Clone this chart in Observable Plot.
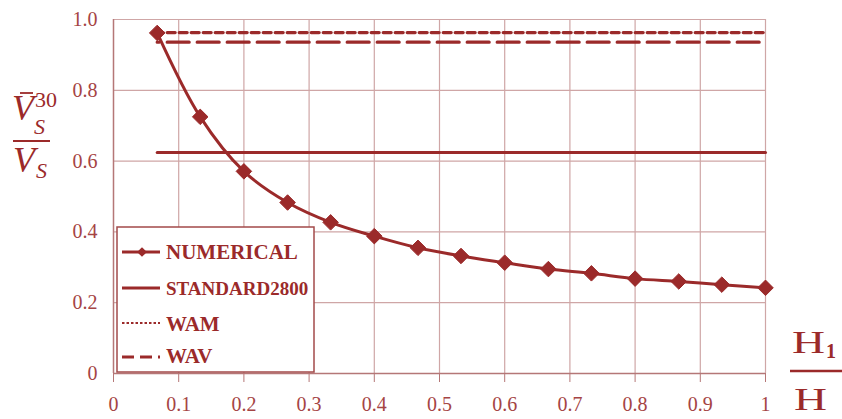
<!DOCTYPE html>
<html>
<head>
<meta charset="utf-8">
<script src="https://cdn.jsdelivr.net/npm/d3@7"></script>
<script src="https://cdn.jsdelivr.net/npm/@observablehq/plot@0.6"></script>
<style>
  html, body { margin: 0; padding: 0; background: #fff; }
  #chart { position: relative; width: 842px; height: 419px; }
</style>
</head>
<body>
<div id="chart"></div>
<script>
// ---- data ----
const hRatio = [0.067, 0.133, 0.2, 0.267, 0.333, 0.4, 0.467, 0.533, 0.6, 0.667, 0.733, 0.8, 0.867, 0.933, 1.0];
const numerical = [0.962, 0.725, 0.571, 0.483, 0.427, 0.388, 0.355, 0.332, 0.313, 0.295, 0.283, 0.268, 0.26, 0.251, 0.242];
const standard2800 = 0.624;
const wam = 0.963;
const wav = 0.936;
const lineStart = 0.067;
const lineEnd = 1.0;
const xTicks = [0, 0.1, 0.2, 0.3, 0.4, 0.5, 0.6, 0.7, 0.8, 0.9, 1.0];
const xTickLabels = ["0", "0.1", "0.2", "0.3", "0.4", "0.5", "0.6", "0.7", "0.8", "0.9", "1"];
const yTicks = [0, 0.2, 0.4, 0.6, 0.8, 1.0];
const yTickLabels = ["0", "0.2", "0.4", "0.6", "0.8", "1.0"];
const seriesNames = ["NUMERICAL", "STANDARD2800", "WAM", "WAV"];

// ---- styles ----
const dark = "#9b2a2a";
const textCol = "#a54444";
const gridCol = "#cfa6a6";
const axisCol = "#b57777";

const pts = hRatio.map((x, i) => ({x, y: numerical[i]}));
const hline = (v) => [{x: lineStart, y: v}, {x: lineEnd, y: v}];

const svg = Plot.plot({
  width: 842,
  height: 419,
  marginLeft: 113,
  marginRight: 77,
  marginTop: 19,
  marginBottom: 46,
  x: {domain: [0, 1]},
  y: {domain: [0, 1]},
  style: {fontFamily: "'Liberation Serif', serif", fontSize: "20px", color: textCol, background: "#fff", overflow: "visible"},
  marks: [
    Plot.gridX(xTicks, {stroke: gridCol, strokeOpacity: 1, strokeWidth: 1.2}),
    Plot.gridY(yTicks, {stroke: gridCol, strokeOpacity: 1, strokeWidth: 1.2}),
    Plot.ruleX([0], {stroke: axisCol, strokeWidth: 1.4}),
    Plot.ruleY([0], {stroke: axisCol, strokeWidth: 1.4}),
    Plot.axisX(xTicks, {tickSize: 9, tickPadding: 14, stroke: axisCol, tickFormat: (d, i) => xTickLabels[i], label: null, fill: textCol}),
    Plot.axisY(yTicks, {tickSize: 0, tickPadding: 16, tickFormat: (d, i) => yTickLabels[i], label: null, fill: textCol}),
    Plot.line(hline(standard2800), {x: "x", y: "y", stroke: dark, strokeWidth: 3}),
    Plot.line(hline(wam), {x: "x", y: "y", stroke: dark, strokeWidth: 3.2, strokeDasharray: "8,4", strokeDashoffset: -10}),
    Plot.line(hline(wav), {x: "x", y: "y", stroke: dark, strokeWidth: 3.2, strokeDasharray: "22,8", strokeDashoffset: -10}),
    Plot.line(pts, {x: "x", y: "y", stroke: dark, strokeWidth: 3, curve: "catmull-rom"}),
    Plot.dot(pts, {x: "x", y: "y", symbol: "diamond2", r: 7, fill: dark, stroke: dark, strokeWidth: 1})
  ]
});

document.getElementById("chart").appendChild(svg);

// ---- overlay: legend and axis titles ----
const s = d3.select(svg);
const g = s.append("g").attr("text-anchor", "start");

// Legend box
g.append("rect").attr("x", 117).attr("y", 227).attr("width", 197).attr("height", 145)
  .attr("fill", "#fff").attr("stroke", "#a34a4a").attr("stroke-width", 1.5);

const ly = [252, 288, 323, 357];
const lTextY = [259, 295, 331, 363];
const lSize = [21, 19, 21, 21];
const lDash = [null, null, "2.5,2", "12,6"];
const lWidth = [3, 3, 2.2, 3];
seriesNames.forEach((name, i) => {
  const ln = g.append("line").attr("x1", 122).attr("x2", 160).attr("y1", ly[i]).attr("y2", ly[i])
    .attr("stroke", dark).attr("stroke-width", lWidth[i]);
  if (lDash[i]) ln.attr("stroke-dasharray", lDash[i]);
  g.append("text").attr("x", 166).attr("y", lTextY[i]).attr("text-anchor", "start")
    .attr("font-family", "'Liberation Serif', serif").attr("font-weight", "bold")
    .attr("font-size", lSize[i]).attr("fill", dark).text(name);
});
g.append("path").attr("d", d3.symbol(d3.symbolDiamond2, 60)()).attr("transform", `translate(142,${ly[0]})`).attr("fill", dark);

// Y-axis title: V̄S^30 / VS
const yt = g.append("g").attr("fill", dark).attr("font-family", "'Liberation Serif', serif").attr("text-anchor", "start");
yt.append("text").attr("x", 12).attr("y", 120).attr("font-size", 36).attr("font-style", "italic").text("V");
yt.append("text").attr("x", 34).attr("y", 134).attr("font-size", 22).attr("font-style", "italic").text("S");
yt.append("text").attr("x", 35).attr("y", 107).attr("font-size", 22).text("30");
yt.append("line").attr("x1", 20).attr("x2", 33).attr("y1", 93).attr("y2", 93).attr("stroke", dark).attr("stroke-width", 1.8);
yt.append("line").attr("x1", 13).attr("x2", 50).attr("y1", 141).attr("y2", 141).attr("stroke", dark).attr("stroke-width", 2);
yt.append("text").attr("x", 13).attr("y", 172).attr("font-size", 36).attr("font-style", "italic").text("V");
yt.append("text").attr("x", 36).attr("y", 178).attr("font-size", 22).attr("font-style", "italic").text("S");

// X-axis title: H1 / H
const xt = g.append("g").attr("fill", dark).attr("font-family", "'Liberation Serif', serif").attr("text-anchor", "start");
const hn = xt.append("text").attr("x", 792).attr("y", 353).attr("font-size", 32);
hn.append("tspan").attr("textLength", 33).attr("lengthAdjust", "spacingAndGlyphs").text("H");
hn.append("tspan").attr("dx", 1).attr("dy", 5).attr("font-size", 20).attr("font-weight", "bold").text("1");
xt.append("line").attr("x1", 790).attr("x2", 842).attr("y1", 371).attr("y2", 371).attr("stroke", dark).attr("stroke-width", 2.5);
xt.append("text").attr("x", 794).attr("y", 410).attr("font-size", 32).attr("textLength", 33).attr("lengthAdjust", "spacingAndGlyphs").text("H");
</script>
</body>
</html>
